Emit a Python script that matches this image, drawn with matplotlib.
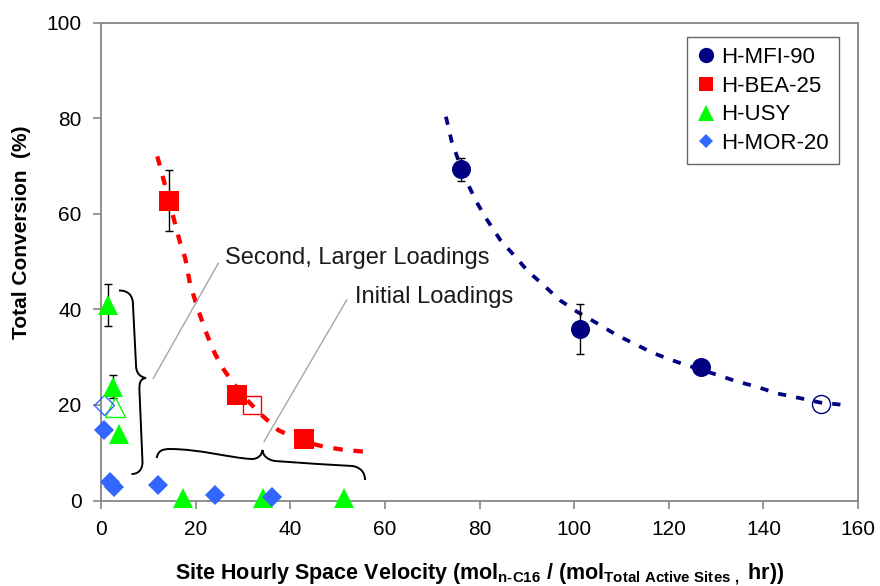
import matplotlib
matplotlib.use("Agg")
import matplotlib.pyplot as plt
from matplotlib.path import Path
from matplotlib.patches import PathPatch
from matplotlib.lines import Line2D

plt.rcParams['font.family'] = ['Liberation Sans', 'DejaVu Sans']
plt.rcParams['mathtext.fontset'] = 'custom'
plt.rcParams['mathtext.rm'] = 'Liberation Sans:bold'
plt.rcParams['mathtext.it'] = 'Liberation Sans:bold'
plt.rcParams['mathtext.bf'] = 'Liberation Sans:bold'

# ---- measured data -------------------------------------------------------
mfi_x = [76.0, 101.2, 126.8]
mfi_y = [69.3, 35.9, 27.9]
mfi_err = [2.4, 5.3, 0.0]
mfi_open_x = [152.2]
mfi_open_y = [20.1]

bea_x = [14.4, 28.7, 43.0]
bea_y = [62.7, 22.1, 12.9]
bea_err = [6.4, 0.0, 0.0]
bea_open_x = [31.9]
bea_open_y = [20.0]

usy_x = [1.5, 2.5, 3.9, 17.3, 34.3, 51.4]
usy_y = [40.9, 23.8, 14.0, 0.5, 0.5, 0.5]
usy_err = [4.3, 2.4, 0.0, 0.0, 0.0, 0.0]
usy_open_x = [3.0]
usy_open_y = [19.6]

mor_x = [0.6, 1.8, 2.8, 12.1, 24.1, 36.1]
mor_y = [14.7, 3.9, 2.8, 3.2, 1.2, 0.8]
mor_open_x = [0.6]
mor_open_y = [20.0]

# trend curves
mfi_fit_x = [72.9, 74.1, 76.1, 77.3, 79.4, 81.6, 84.4, 87.2, 90.3, 93.5, 97.0,
             100.6, 104.8, 109.0, 112.5, 116.8, 121.7, 126.0, 130.2, 134.4,
             138.6, 142.9, 147.8, 152.0, 156.9]
mfi_fit_y = [80.3, 75.2, 69.6, 66.7, 62.4, 58.7, 54.5, 51.4, 47.9, 45.1, 41.9,
             39.5, 37.1, 34.6, 32.9, 30.8, 29.0, 27.6, 26.3, 24.9,
             23.8, 22.4, 21.4, 20.5, 20.0]

bea_fit_x = [11.9, 13.2, 15.5, 16.7, 17.8, 18.8, 20.2, 22.0, 23.7, 25.5, 28.0,
             30.8, 33.6, 37.5, 42.8, 47.0, 51.2, 55.8]
bea_fit_y = [72.0, 67.2, 58.5, 54.0, 50.7, 45.4, 40.9, 35.7, 31.5, 28.0, 24.5,
             21.1, 18.2, 14.7, 12.3, 11.3, 10.6, 10.2]

series_names = ['H-MFI-90', 'H-BEA-25', 'H-USY', 'H-MOR-20']
x_ticks = [0, 20, 40, 60, 80, 100, 120, 140, 160]
y_ticks = [0, 20, 40, 60, 80, 100]

NAVY = '#000080'
RED = '#FF0000'
GREEN = '#00FF00'
BLUE = '#3366FF'
SPINE = '#868686'

fig = plt.figure(figsize=(8.8, 5.86), dpi=100)
ax = fig.add_axes([101 / 880, 1 - 500.5 / 586, 757 / 880, 478 / 586])
ax.set_xlim(0, 160)
ax.set_ylim(0, 100)
ax.set_xticks(x_ticks)
ax.set_yticks(y_ticks)
ax.tick_params(axis='both', direction='out', length=6, width=1.2,
               color=SPINE, labelsize=15, pad=8)
for sp in ax.spines.values():
    sp.set_color(SPINE)
    sp.set_linewidth(1.3)

# trend curves
ax.plot(mfi_fit_x, mfi_fit_y, color=NAVY, lw=2.7, dashes=(2.2, 2.7),
        zorder=2)
ax.plot(bea_fit_x, bea_fit_y, color=RED, lw=3.1, dashes=(2.2, 2.5),
        zorder=2)


def draw_errors(xs, ys, errs):
    ex = [x for x, e in zip(xs, errs) if e > 0]
    ey = [y for y, e in zip(ys, errs) if e > 0]
    ee = [e for e in errs if e > 0]
    ax.errorbar(ex, ey, yerr=ee, fmt='none', ecolor='black', elinewidth=1.0,
                capsize=3.0, capthick=1.0, zorder=3, clip_on=False)


draw_errors(mfi_x, mfi_y, mfi_err)
draw_errors(bea_x, bea_y, bea_err)
draw_errors(usy_x, usy_y, usy_err)

# open markers (repeat runs)
ax.plot(mfi_open_x, mfi_open_y, 'o', ms=13, mfc='none', mec=NAVY, mew=1.0,
        zorder=4, clip_on=False)
ax.plot(bea_open_x, bea_open_y, 's', ms=13.5, mfc='none', mec=RED, mew=1.0,
        zorder=4, clip_on=False)
ax.plot(usy_open_x, usy_open_y, '^', ms=15, mfc='none', mec=GREEN, mew=1.0,
        zorder=4, clip_on=False)
ax.plot(mor_open_x, mor_open_y, 'D', ms=10, mfc='none', mec=BLUE, mew=1.0,
        zorder=4, clip_on=False)

# filled markers
ax.plot(mfi_x, mfi_y, 'o', ms=13.7, color=NAVY, mew=0, zorder=5, clip_on=False)
ax.plot(bea_x, bea_y, 's', ms=14, color=RED, mew=0, zorder=5, clip_on=False)
ax.plot(usy_x, usy_y, '^', ms=15, color=GREEN, mew=0, zorder=5, clip_on=False)
ax.plot(mor_x, mor_y, 'D', ms=10, color=BLUE, mew=0, zorder=5, clip_on=False)

# curly braces grouping the loadings
brace_v = [(3.80, 43.93),
           (5.71, 43.93), (6.76, 42.99), (6.76, 40.90),
           (7.40, 28.35),
           (7.40, 26.67), (8.24, 25.84), (9.51, 25.63),
           (8.24, 25.42), (8.03, 24.58), (8.14, 22.70),
           (8.77, 8.05),
           (8.77, 6.38), (7.82, 5.54), (6.45, 5.54)]
codes_v = [Path.MOVETO,
           Path.CURVE4, Path.CURVE4, Path.CURVE4,
           Path.LINETO,
           Path.CURVE4, Path.CURVE4, Path.CURVE4,
           Path.CURVE4, Path.CURVE4, Path.CURVE4,
           Path.LINETO,
           Path.CURVE4, Path.CURVE4, Path.CURVE4]
brace_h = [(11.77, 8.89),
           (12.05, 10.36), (12.89, 10.77), (14.58, 10.77),
           (20.93, 10.77), (27.27, 8.89), (31.92, 8.68),
           (33.18, 8.68), (34.03, 9.52), (34.14, 10.56),
           (34.24, 9.31), (35.30, 8.47), (36.78, 8.26),
           (42.06, 7.85), (49.46, 7.43), (53.05, 7.22),
           (54.74, 7.01), (55.80, 5.96), (55.80, 4.29)]
codes_h = [Path.MOVETO] + [Path.CURVE4] * 18
for verts, codes in ((brace_v, codes_v), (brace_h, codes_h)):
    ax.add_patch(PathPatch(Path(verts, codes), fc='none', ec='black',
                           lw=1.4, zorder=3))

# leader lines and labels
ax.plot([11.05, 24.79], [25.56, 49.62], color='#A6A6A6', lw=1.0, zorder=3)
ax.plot([34.45, 51.93], [12.30, 41.95], color='#A6A6A6', lw=1.0, zorder=3)
ax.text(26.2, 50.7, 'Second, Larger Loadings', fontsize=17, ha='left',
        va='center', color='#1a1a1a')
ax.text(53.7, 42.6, 'Initial Loadings', fontsize=17, ha='left', va='center',
        color='#1a1a1a')

# axis titles
fig.text(480 / 880, 1 - 574 / 586,
         r'Site Hourly Space Velocity (mol$_{\mathrm{n\text{-}C16}}$ / '
         r'(mol$_{\mathrm{Total\ Active\ Sites\ ,}}$ hr))',
         fontsize=15.5, fontweight='bold', ha='center', va='center')
fig.text(22 / 880, 1 - 232 / 586, 'Total Conversion  (%)', fontsize=15,
         fontweight='bold', rotation=90, ha='center', va='center')

# legend
handles = [
    Line2D([], [], ls='none', marker='o', ms=11, color=NAVY, mew=0),
    Line2D([], [], ls='none', marker='s', ms=10.5, color=RED, mew=0),
    Line2D([], [], ls='none', marker='^', ms=11.5, color=GREEN, mew=0),
    Line2D([], [], ls='none', marker='D', ms=7.5, color=BLUE, mew=0),
]
leg = ax.legend(handles, series_names, loc='upper right',
                bbox_to_anchor=(0.975, 0.97), borderaxespad=0, fontsize=16,
                fancybox=False, frameon=True, handlelength=0.8,
                handletextpad=0.3, labelspacing=0.35, borderpad=0.45)
leg.get_frame().set_edgecolor('#404040')
leg.get_frame().set_linewidth(1.0)

fig.savefig('out.png', dpi=100)
